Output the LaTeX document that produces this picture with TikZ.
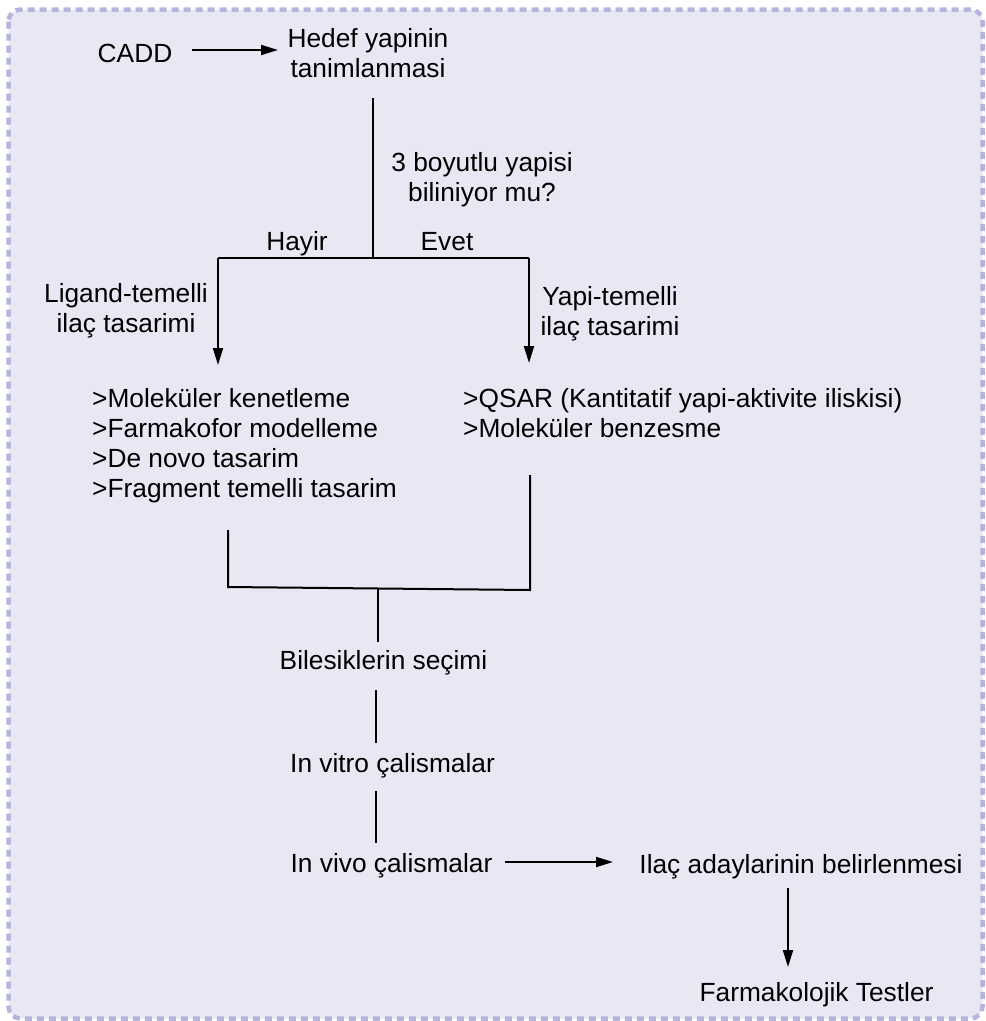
\documentclass[tikz,border=0pt]{standalone}
\usepackage{fontspec}
\setmainfont{Liberation Sans}
\usetikzlibrary{arrows.meta}
% stacked lines of text, the first baseline being the node's baseline
\newcommand\cstack[1]{\begin{tabular}[t]{@{}c@{}}#1\end{tabular}}
\newcommand\lstack[1]{\begin{tabular}[t]{@{}l@{}}#1\end{tabular}}
\definecolor{canvasbg}{HTML}{E8E8F4}
\definecolor{framecol}{HTML}{B4B4DC}
\begin{document}
\begin{tikzpicture}[x=1pt,y=-1pt,
  lbl/.style={anchor=base,inner sep=0pt,font=\fontsize{26.3}{30}\selectfont},
  lblw/.style={lbl,anchor=base west},
  conn/.style={line width=2pt,black},
  arr/.style={conn,-{Triangle[length=17pt,width=10pt]}}]
\useasboundingbox (0,0) rectangle (986,1021);
\fill[white] (0,0) rectangle (986,1021);
% dashed frame around the chart
\draw[framecol,fill=canvasbg,line width=4.5pt,dash pattern=on 7pt off 5pt,rounded corners=12pt]
  (8.5,9.5) rectangle (982.5,1018.5);

% labels
\node[lbl] (cadd)   at (135,62)    {CADD};
\node[lbl] (hedef)  at (368,47.5)  {\cstack{Hedef yapinin\\tanimlanmasi}};
\node[lbl] (soru)   at (482,171)   {\cstack{3 boyutlu yapisi\\biliniyor mu?}};
\node[lbl] (hayir)  at (297,250)   {Hayir};
\node[lbl] (evet)   at (447,250)   {Evet};
\node[lbl] (ligand) at (126,302)   {\cstack{Ligand-temelli\\ilaç tasarimi}};
\node[lbl] (yapi)   at (610,305)   {\cstack{Yapi-temelli\\ilaç tasarimi}};
\node[lblw] (solliste) at (92,407) {\lstack{>Moleküler kenetleme\\>Farmakofor modelleme\\>De novo tasarim\\>Fragment temelli tasarim}};
\node[lblw] (sagliste) at (463,407) {\lstack{>QSAR (Kantitatif yapi-aktivite iliskisi)\\>Moleküler benzesme}};
\node[lbl] (secim)  at (383.5,669.5) {Bilesiklerin seçimi};
\node[lbl] (vitro)  at (392.5,772) {In vitro çalismalar};
\node[lbl] (vivo)   at (391.5,872) {In vivo çalismalar};
\node[lbl] (aday)   at (801,873)   {Ilaç adaylarinin belirlenmesi};
\node[lbl] (farma)  at (816.5,1001) {Farmakolojik Testler};

% connector ends
\coordinate (caddout) at (192,50);
\coordinate (hedefin) at (278,50);
\coordinate (hedefout) at (373,98);
\coordinate (ayrim) at (373,258);
\coordinate (ayrimsol) at (218,258);
\coordinate (ayrimsag) at (529,258);
\coordinate (ligandin) at (218,365);
\coordinate (yapiin) at (529,363);
\coordinate (solout) at (228,530);
\coordinate (solkose) at (228,587);
\coordinate (sagout) at (530,475);
\coordinate (sagkose) at (530,590);
\coordinate (birlesim) at (378,589);
\coordinate (secimin) at (378,642);
\coordinate (secimout) at (376,690);
\coordinate (vitroin) at (376,743);
\coordinate (vitroout) at (376,791);
\coordinate (vivoin) at (376,843);
\coordinate (vivoout) at (505,862);
\coordinate (adayin) at (613,862);
\coordinate (adayout) at (788,888);
\coordinate (farmain) at (788,967);

% connectors
\draw[arr] (caddout) -- (hedefin);
\draw[conn] (hedefout) -- (ayrim);
\draw[conn] (ayrimsol) -- (ayrimsag);
\draw[arr] (ayrimsol) -- (ligandin);
\draw[arr] (ayrimsag) -- (yapiin);
\draw[conn] (solout) -- (solkose) -- (sagkose) -- (sagout);
\draw[conn] (birlesim) -- (secimin);
\draw[conn] (secimout) -- (vitroin);
\draw[conn] (vitroout) -- (vivoin);
\draw[arr] (vivoout) -- (adayin);
\draw[arr] (adayout) -- (farmain);
\end{tikzpicture}
\end{document}
